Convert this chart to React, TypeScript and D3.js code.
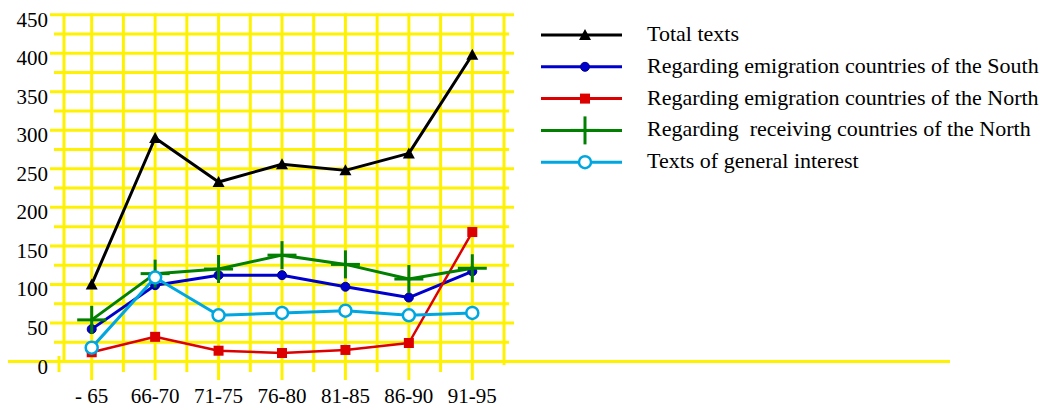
import React from "react";
import * as d3 from "d3";

const categories = ["- 65", "66-70", "71-75", "76-80", "81-85", "86-90", "91-95"];
const totalTexts = [100, 290, 233, 256, 248, 270, 398];
const emigrationSouth = [42, 99, 112, 112, 97, 83, 117];
const emigrationNorth = [12, 32, 14, 11, 15, 24, 168];
const receivingNorth = [54, 114, 120, 138, 126, 107, 121];
const generalInterest = [18, 109, 60, 63, 66, 60, 63];
const yTicks = [0, 50, 100, 150, 200, 250, 300, 350, 400, 450];
const legendLabels = [
  "Total texts",
  "Regarding emigration countries of the South",
  "Regarding emigration countries of the North",
  "Regarding  receiving countries of the North",
  "Texts of general interest",
];

type Marker = "triangle" | "dot" | "square" | "plus" | "ring";
const series: { values: number[]; color: string; marker: Marker; width: number }[] = [
  { values: totalTexts, color: "#000000", marker: "triangle", width: 3 },
  { values: emigrationSouth, color: "#0000cc", marker: "dot", width: 3 },
  { values: emigrationNorth, color: "#dd0000", marker: "square", width: 2.5 },
  { values: receivingNorth, color: "#007f00", marker: "plus", width: 3 },
  { values: generalInterest, color: "#00a6e0", marker: "ring", width: 3 },
];

const YELLOW = "#fff200";
const FONT = "'Liberation Serif', 'Times New Roman', serif";

function MarkerShape({ kind, x, y, color }: { kind: Marker; x: number; y: number; color: string }) {
  switch (kind) {
    case "triangle":
      return <path d={`M${x},${y - 6}L${x + 6},${y + 5}L${x - 6},${y + 5}Z`} fill={color} />;
    case "dot":
      return <circle cx={x} cy={y} r={4.5} fill={color} stroke="#00008a" strokeWidth={1} />;
    case "square":
      return <rect x={x - 5} y={y - 5} width={10} height={10} fill={color} />;
    case "plus":
      return (
        <g stroke={color} strokeWidth={3}>
          <line x1={x - 14.5} x2={x + 14.5} y1={y} y2={y} />
          <line x1={x} x2={x} y1={y - 14} y2={y + 14} />
        </g>
      );
    case "ring":
      return <circle cx={x} cy={y} r={6} fill="#ffffff" stroke={color} strokeWidth={2.5} />;
  }
}

export default function App() {
  const x = d3.scalePoint<string>().domain(categories).range([91.7, 472.3]);
  const y = d3.scaleLinear().domain([0, 450]).range([361.5, 14.7]);
  const step = x.step();
  const line = d3
    .line<number>()
    .x((_, i) => x(categories[i]) as number)
    .y((d) => y(d));

  const gridValues = d3.range(0, 451, 25);
  const halfLines = d3.range(0, 14).map((i) => ({ xv: (x(categories[0]) as number) + (i * step) / 2, major: i % 2 === 0 }));
  const top = y(450);

  return (
    <svg width={1058} height={410} style={{ position: "absolute", left: 0, top: 0, background: "#fff" }}>
      {/* horizontal grid */}
      {gridValues.map((v) => {
        const major = v % 50 === 0;
        if (v === 0) return null;
        return (
          <line key={"h" + v} x1={major ? 50 : 54} x2={major ? 514 : 509} y1={y(v)} y2={y(v)} stroke={YELLOW} strokeWidth={3} />
        );
      })}
      {/* vertical grid */}
      {halfLines.map((l, i) => (
        <line
          key={"v" + i}
          x1={l.xv}
          x2={l.xv}
          y1={top - 1.5}
          y2={i === 13 ? 365 : l.major ? 380 : 372}
          stroke={YELLOW}
          strokeWidth={3}
        />
      ))}
      {/* y axis */}
      <line x1={64} x2={64} y1={top - 1.5} y2={363} stroke={YELLOW} strokeWidth={3} />
      {/* x axis */}
      <line x1={8} x2={950} y1={y(0)} y2={y(0)} stroke={YELLOW} strokeWidth={3} />
      <line x1={59} x2={59} y1={356} y2={372} stroke={YELLOW} strokeWidth={3} />

      {/* y tick labels */}
      {yTicks.map((v) => (
        <text key={"yt" + v} x={48} y={y(v) + 12} textAnchor="end" fontFamily={FONT} fontSize={21} fill="#000">
          {v}
        </text>
      ))}
      {/* x tick labels */}
      {categories.map((c) => (
        <text key={"xt" + c} x={x(c)} y={403} textAnchor="middle" fontFamily={FONT} fontSize={21} fill="#000" style={{ whiteSpace: "pre" }}>
          {c}
        </text>
      ))}

      {/* series */}
      {series.map((s, si) => (
        <g key={"s" + si}>
          <path d={line(s.values) ?? ""} fill="none" stroke={s.color} strokeWidth={s.width} strokeLinejoin="round" />
          {s.values.map((v, i) => (
            <MarkerShape key={i} kind={s.marker} x={x(categories[i]) as number} y={y(v)} color={s.color} />
          ))}
        </g>
      ))}

      {/* legend */}
      {series.map((s, i) => {
        const ly = 35 + i * 31.8;
        return (
          <g key={"lg" + i}>
            <line x1={541} x2={622} y1={ly} y2={ly} stroke={s.color} strokeWidth={3} />
            <MarkerShape kind={s.marker} x={585} y={ly} color={s.color} />
            <text x={647} y={ly + 6} fontFamily={FONT} fontSize={22} fill="#000" style={{ whiteSpace: "pre" }}>
              {legendLabels[i]}
            </text>
          </g>
        );
      })}
    </svg>
  );
}
